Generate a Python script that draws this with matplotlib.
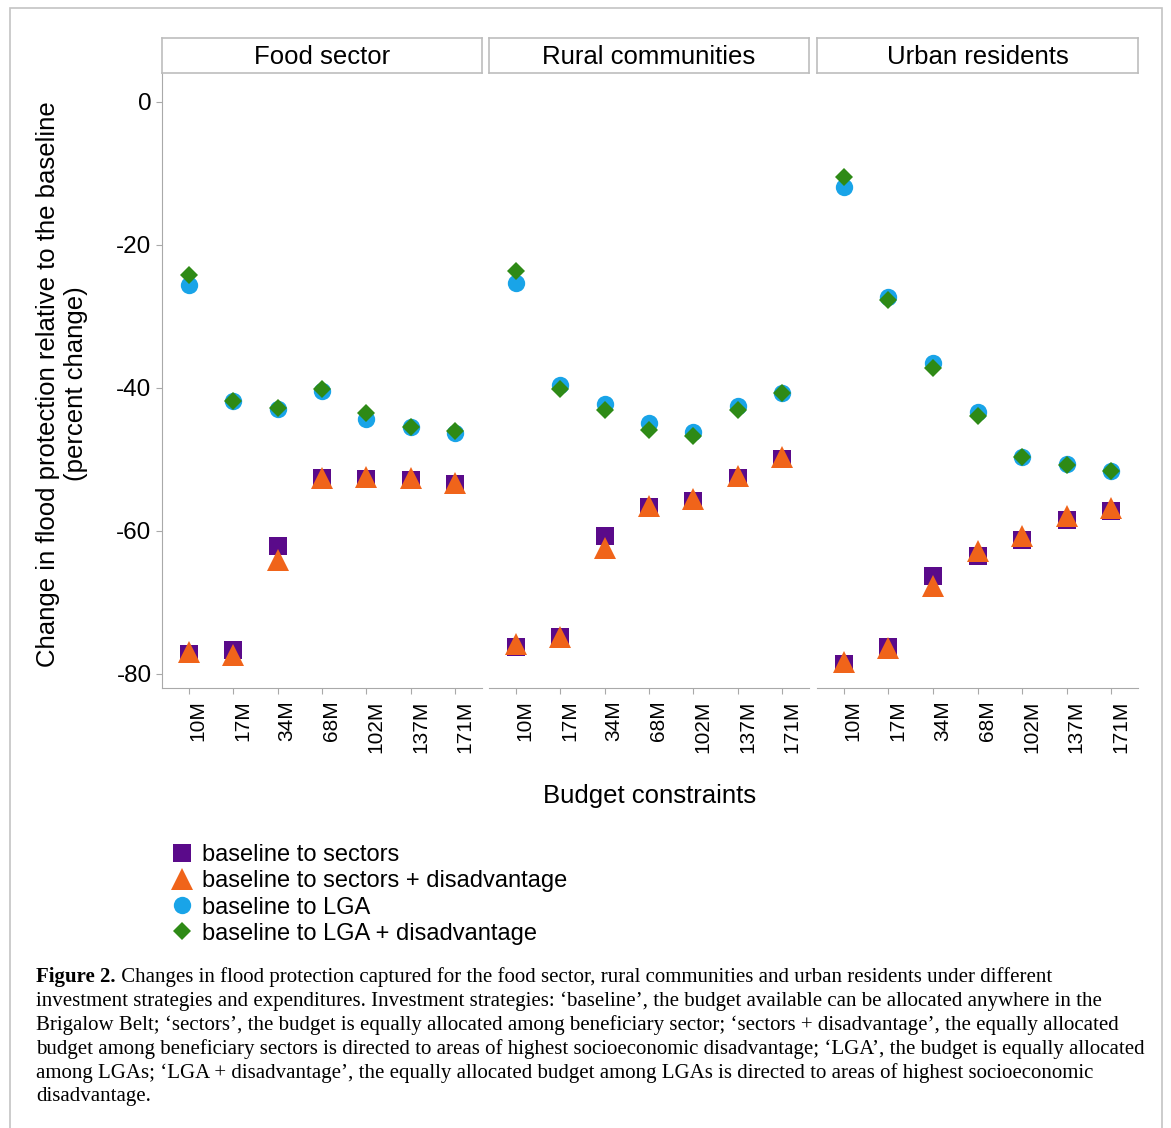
import matplotlib
matplotlib.use("Agg")
import matplotlib.pyplot as plt
from matplotlib.lines import Line2D
from matplotlib.patches import Rectangle

plt.rcParams['font.family'] = ['Liberation Sans', 'DejaVu Sans']

budgets = ["10M", "17M", "34M", "68M", "102M", "137M", "171M"]
panels = ["Food sector", "Rural communities", "Urban residents"]
series_names = ["baseline to sectors", "baseline to sectors + disadvantage",
                "baseline to LGA", "baseline to LGA + disadvantage"]

# values per panel (Food, Rural, Urban)
sectors = [
    [-77.2, -76.7, -62.1, -52.7, -52.8, -52.9, -53.5],
    [-76.2, -74.9, -60.8, -56.7, -55.9, -52.6, -50.0],
    [-78.6, -76.2, -66.3, -63.6, -61.3, -58.5, -57.3],
]
sectors_dis = [
    [-77.0, -77.4, -64.1, -52.7, -52.5, -52.7, -53.4],
    [-75.9, -74.9, -62.4, -56.6, -55.6, -52.3, -49.7],
    [-78.3, -76.4, -67.8, -62.9, -60.7, -58.0, -56.8],
]
lga = [
    [-25.6, -41.8, -43.0, -40.5, -44.4, -45.5, -46.3],
    [-25.3, -39.6, -42.3, -44.9, -46.2, -42.6, -40.8],
    [-11.9, -27.3, -36.5, -43.4, -49.7, -50.7, -51.7],
]
lga_dis = [
    [-24.3, -41.8, -42.9, -40.2, -43.6, -45.5, -46.0],
    [-23.7, -40.2, -43.1, -45.9, -46.7, -43.1, -40.8],
    [-10.6, -27.7, -37.2, -44.0, -49.7, -50.8, -51.7],
]
yticks = [0, -20, -40, -60, -80]

colors = ["#5a0a8a", "#f0641a", "#19a4e8", "#2e8a16"]
markers = ["s", "^", "o", "D"]
msizes = [12.5, 16, 12.5, 9]
series = [sectors, sectors_dis, lga, lga_dis]

W, H = 1171, 1128
fig = plt.figure(figsize=(W / 100, H / 100), dpi=100)

def fx(px):
    return px / W

def fy(py):
    return 1 - py / H

grey = "#a9a9a9"
panel_x = [(162, 482), (489, 809), (817, 1138)]
top, bottom = 73, 688
for i, (x0, x1) in enumerate(panel_x):
    ax = fig.add_axes([fx(x0), fy(bottom), fx(x1 - x0), (bottom - top) / H])
    xs = list(range(len(budgets)))
    for s, c, m, ms in zip(series, colors, markers, msizes):
        ax.plot(xs, s[i], linestyle="none", marker=m, color=c, markersize=ms,
                markeredgewidth=0)
    ax.set_xlim(-0.6, len(budgets) - 1 + 0.6)
    ax.set_ylim(-82, 4)
    ax.set_xticks(xs)
    ax.set_xticklabels(budgets, rotation=90, fontsize=15, ha="left")
    ax.set_yticks(yticks)
    for sp in ["top", "right"]:
        ax.spines[sp].set_visible(False)
    ax.spines["bottom"].set_color(grey)
    ax.spines["left"].set_color(grey)
    ax.tick_params(colors=grey, length=4, labelcolor="black")
    ax.tick_params(axis="x", pad=5)
    if i == 0:
        ax.set_yticklabels([str(v) for v in yticks], fontsize=17.5)
    else:
        ax.spines["left"].set_visible(False)
        ax.tick_params(axis="y", left=False, labelleft=False)
    # strip
    sax = fig.add_axes([fx(x0), fy(73), fx(x1 - x0), 35 / H])
    sax.set_xticks([])
    sax.set_yticks([])
    for sp in sax.spines.values():
        sp.set_color("#bdbdbd")
        sp.set_linewidth(1.2)
    sax.text(0.5, 0.45, panels[i], ha="center", va="center", fontsize=18.5,
             transform=sax.transAxes)

fig.text(fx(48), fy(384), "Change in flood protection relative to the baseline",
         rotation=90, ha="center", va="center", fontsize=18.5)
fig.text(fx(76), fy(384), "(percent change)", rotation=90, ha="center",
         va="center", fontsize=18.5)
fig.text(fx(650), fy(796), "Budget constraints", ha="center", va="center",
         fontsize=18.5)

handles = [Line2D([], [], linestyle="none", marker=m, color=c, markersize=ms,
                  markeredgewidth=0)
           for c, m, ms in zip(colors, markers, msizes)]
fig.legend(handles, series_names, loc="upper left",
           bbox_to_anchor=(fx(169), fy(844)), frameon=False, fontsize=17,
           handletextpad=0.3, labelspacing=0.18, handlelength=1.1,
           borderaxespad=0, borderpad=0)

# caption
cap_lines = [
    " Changes in flood protection captured for the food sector, rural communities and urban residents under different",
    "investment strategies and expenditures. Investment strategies: \u2018baseline\u2019, the budget available can be allocated anywhere in the",
    "Brigalow Belt; \u2018sectors\u2019, the budget is equally allocated among beneficiary sector; \u2018sectors + disadvantage\u2019, the equally allocated",
    "budget among beneficiary sectors is directed to areas of highest socioeconomic disadvantage; \u2018LGA\u2019, the budget is equally allocated",
    "among LGAs; \u2018LGA + disadvantage\u2019, the equally allocated budget among LGAs is directed to areas of highest socioeconomic",
    "disadvantage.",
]
serif = ["Liberation Serif", "DejaVu Serif"]
renderer = fig.canvas.get_renderer()
probe = fig.text(0, 0, cap_lines[3], fontsize=13, family=serif)
wprobe = probe.get_window_extent(renderer).width
probe.remove()
cap_fs = 13 * (1102 / wprobe)
y0 = 977
for k, line in enumerate(cap_lines):
    yy = fy(y0 + 24 * k)
    if k == 0:
        b = fig.text(fx(36), yy, "Figure 2.", fontsize=cap_fs, family=serif,
                     weight="bold", va="center")
        bw = b.get_window_extent(renderer).width
        fig.text(fx(36 + bw), yy, line, fontsize=cap_fs, family=serif,
                 va="center")
    else:
        fig.text(fx(36), yy, line, fontsize=cap_fs, family=serif, va="center")

fig.patches.append(Rectangle((fx(10), fy(1135)), fx(1152), (1135 - 8) / H,
                             transform=fig.transFigure, fill=False,
                             edgecolor="#c4c4c4", linewidth=1.2))

fig.savefig("out.png", dpi=100, facecolor="white")
